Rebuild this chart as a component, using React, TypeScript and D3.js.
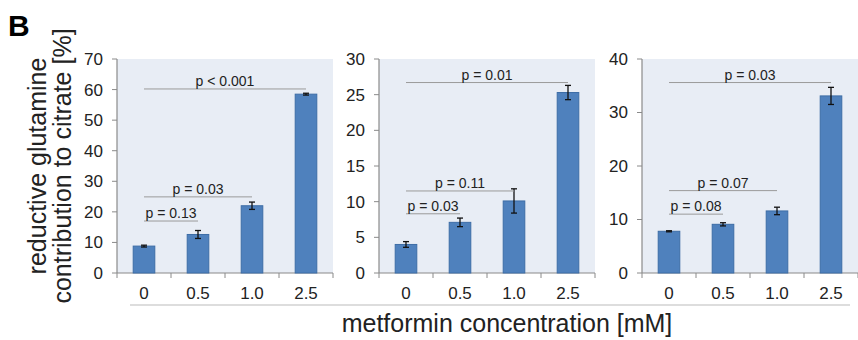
import React from 'react';
import * as d3 from 'd3';

// concentrations (mM)
const categories = ['0', '0.5', '1.0', '2.5'];

// reductive glutamine contribution to citrate [%], three panels
const panel1Values = [8.8, 12.6, 22.0, 58.5];
const panel1Errors = [0.3, 1.3, 1.2, 0.3];
const panel2Values = [4.0, 7.1, 10.1, 25.3];
const panel2Errors = [0.4, 0.6, 1.7, 1.0];
const panel3Values = [7.8, 9.1, 11.6, 33.1];
const panel3Errors = [0.1, 0.3, 0.7, 1.6];

const yMaxes = [70, 30, 40];
const yTickSteps = [10, 5, 10];

// comparisons against control: [target index, bracket height, label]
const panel1Pvals: [number, number, string][] = [[1, 17, 'p = 0.13'], [2, 24.9, 'p = 0.03'], [3, 60.2, 'p < 0.001']];
const panel2Pvals: [number, number, string][] = [[1, 8.3, 'p = 0.03'], [2, 11.5, 'p = 0.11'], [3, 26.7, 'p = 0.01']];
const panel3Pvals: [number, number, string][] = [[1, 11.0, 'p = 0.08'], [2, 15.4, 'p = 0.07'], [3, 35.6, 'p = 0.03']];

const W = 858;
const H = 340;
const FONT = '"Liberation Sans", Arial, Helvetica, sans-serif';
const panelLefts = [117, 379, 642];
const panelWidth = 216;
const top = 59;
const bottom = 273;

const panels = [
  { values: panel1Values, errors: panel1Errors, pvals: panel1Pvals },
  { values: panel2Values, errors: panel2Errors, pvals: panel2Pvals },
  { values: panel3Values, errors: panel3Errors, pvals: panel3Pvals },
];

function Panel({ idx }: { idx: number }) {
  const p = panels[idx];
  const left = panelLefts[idx];
  const x = d3.scaleBand().domain(categories).range([left, left + panelWidth]).paddingInner(0.6).paddingOuter(0.3);
  const y = d3.scaleLinear().domain([0, yMaxes[idx]]).range([bottom, top]);
  const ticks = d3.range(0, yMaxes[idx] + 0.001, yTickSteps[idx]);
  const step = panelWidth / categories.length;
  const bounds = d3.range(0, categories.length + 1).map(i => left + i * step);
  const cx = (c: string) => (x(c) ?? 0) + x.bandwidth() / 2;

  return (
    <g>
      <rect x={left} y={top} width={panelWidth} height={bottom - top} fill="#e8edf5" />
      {/* y axis */}
      <line x1={left} x2={left} y1={top} y2={bottom} stroke="#8a8a8a" strokeWidth={1.2} />
      {ticks.map(t => (
        <g key={t}>
          <line x1={left - 5} x2={left} y1={y(t)} y2={y(t)} stroke="#8a8a8a" strokeWidth={1} />
          <text x={left - 14} y={y(t)} dy="0.35em" textAnchor="end" fontSize={17} fill="#222">{t}</text>
        </g>
      ))}
      {/* x axis */}
      <line x1={left} x2={left + panelWidth} y1={bottom} y2={bottom} stroke="#8a8a8a" strokeWidth={1.2} />
      {bounds.map((b, i) => (
        <line key={i} x1={b} x2={b} y1={bottom} y2={bottom + 5} stroke="#8a8a8a" strokeWidth={1} />
      ))}
      {categories.map(c => (
        <text key={c} x={cx(c)} y={299} textAnchor="middle" fontSize={17} fill="#222">{c}</text>
      ))}
      {/* bars */}
      {categories.map((c, i) => (
        <rect key={c} x={x(c)} y={y(p.values[i])} width={x.bandwidth()} height={bottom - y(p.values[i])}
          fill="#4f81bd" stroke="#3d6da6" strokeWidth={1} />
      ))}
      {/* error bars */}
      {categories.map((c, i) => {
        const hi = y(p.values[i] + p.errors[i]);
        const lo = y(p.values[i] - p.errors[i]);
        return (
          <g key={c} stroke="#111" strokeWidth={1.3}>
            <line x1={cx(c)} x2={cx(c)} y1={hi} y2={lo} />
            <line x1={cx(c) - 3} x2={cx(c) + 3} y1={hi} y2={hi} />
            <line x1={cx(c) - 3} x2={cx(c) + 3} y1={lo} y2={lo} />
          </g>
        );
      })}
      {/* p-value brackets */}
      {p.pvals.map(([to, h, label]) => {
        const x1 = cx(categories[0]);
        const x2 = cx(categories[to]);
        return (
          <g key={label + to}>
            <line x1={x1} x2={x2} y1={y(h)} y2={y(h)} stroke="#9a9a9a" strokeWidth={1} />
            <text x={(x1 + x2) / 2} y={y(h) - 3} textAnchor="middle" fontSize={14} fill="#222">{label}</text>
          </g>
        );
      })}
    </g>
  );
}

export default function App() {
  return (
    <svg width={W} height={H} style={{ position: 'absolute', left: 0, top: 0, background: '#fff' }} fontFamily={FONT}>
      <rect width={W} height={H} fill="#fff" />
      <text x={8} y={36} fontSize={30} fontWeight="bold" fill="#000">B</text>
      <g transform="translate(46,166) rotate(-90)">
        <text x={0} y={0} textAnchor="middle" fontSize={25} fill="#222">reductive glutamine</text>
        <text x={0} y={25} textAnchor="middle" fontSize={25} fill="#222">contribution to citrate [%]</text>
      </g>
      {panels.map((_, i) => <Panel key={i} idx={i} />)}
      <line x1={130} x2={850} y1={305} y2={305} stroke="#d2d2d2" strokeWidth={1.5} />
      <text x={507} y={332} textAnchor="middle" fontSize={25} fill="#222">metformin concentration [mM]</text>
    </svg>
  );
}
